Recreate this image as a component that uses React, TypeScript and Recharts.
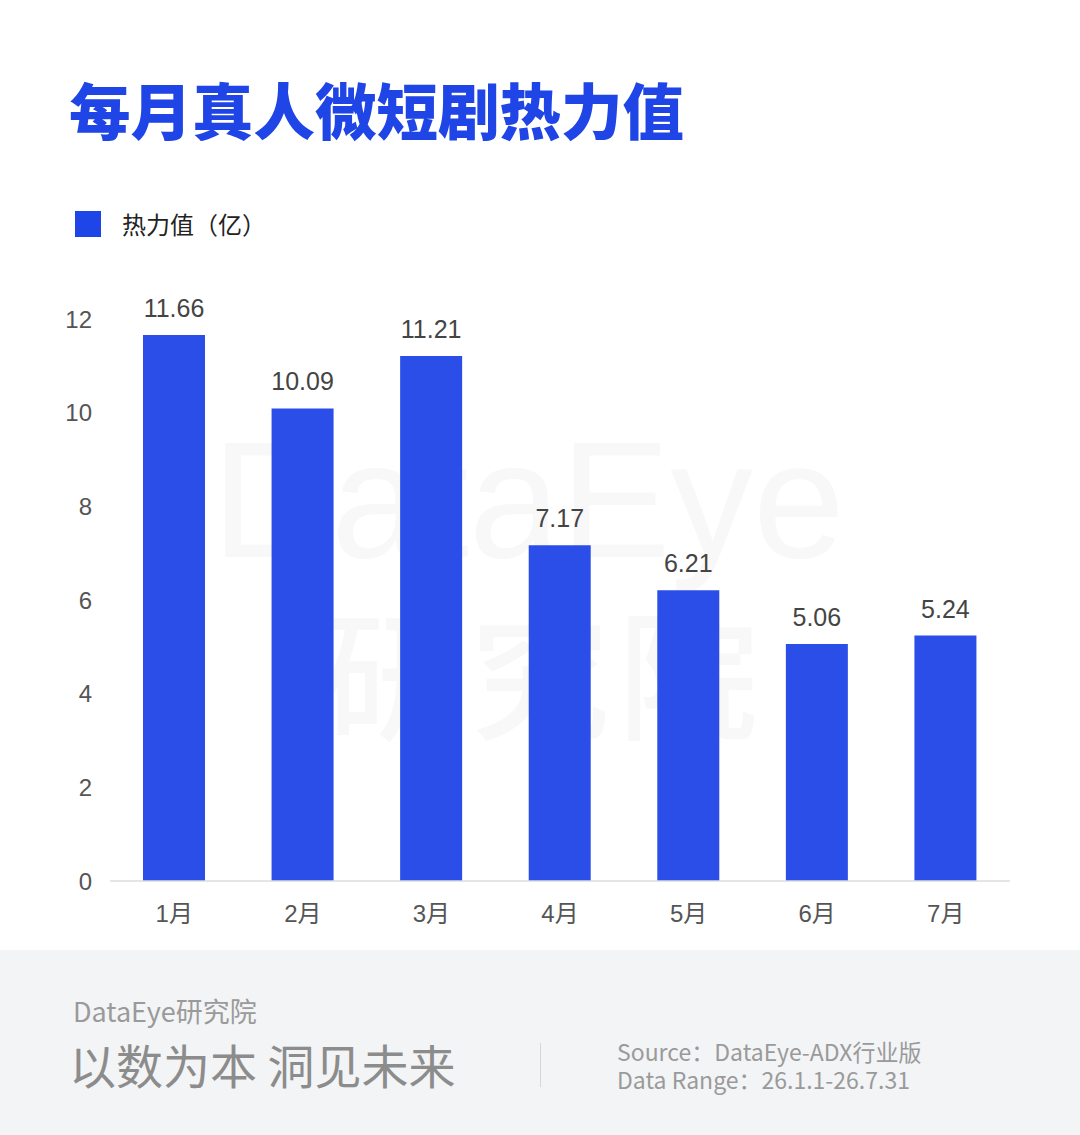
import { BarChart, Bar, XAxis, YAxis, LabelList } from 'recharts'

const months = ['1月', '2月', '3月', '4月', '5月', '6月', '7月']
const heatValues = [11.66, 10.09, 11.21, 7.17, 6.21, 5.06, 5.24]
const yTicks = [0, 2, 4, 6, 8, 10, 12]

const BLUE = '#2b4de8'
const CJK = '"Noto Sans CJK SC", "Noto Sans", sans-serif'
const NUM = '"Liberation Sans", Arial, "Noto Sans CJK SC", sans-serif'

const data = months.map((m, i) => ({ month: m, value: heatValues[i] }))

export default function App() {
  return (
    <div
      style={{
        position: 'absolute',
        left: 0,
        top: 0,
        width: 1080,
        height: 1135,
        background: '#ffffff',
        overflow: 'hidden',
        fontFamily: CJK,
      }}
    >
      {/* faint watermark */}
      <div
        style={{
          position: 'absolute',
          left: 212,
          top: 418,
          fontFamily: '"Liberation Sans", Arial, sans-serif',
          fontSize: 165,
          fontWeight: 400,
          color: '#f8f8f8',
          lineHeight: 1,
          whiteSpace: 'nowrap',
        }}
      >
        DataEye
      </div>
      <div
        style={{
          position: 'absolute',
          left: 322,
          top: 598,
          fontFamily: CJK,
          fontSize: 140,
          fontWeight: 500,
          color: '#f8f8f8',
          lineHeight: 1,
          whiteSpace: 'nowrap',
          letterSpacing: 8,
        }}
      >
        研究院
      </div>

      <div
        style={{
          position: 'absolute',
          left: 69,
          top: 72,
          fontSize: 61.5,
          fontWeight: 900,
          color: '#1f45e6',
          lineHeight: 1.2,
          whiteSpace: 'nowrap',
        }}
      >
        每月真人微短剧热力值
      </div>

      <div style={{ position: 'absolute', left: 75, top: 211, display: 'flex', alignItems: 'center' }}>
        <div style={{ width: 26, height: 26, background: '#1d45e8' }} />
        <span style={{ marginLeft: 21, fontSize: 24, color: '#222', lineHeight: '26px', whiteSpace: 'nowrap' }}>
          热力值（亿）
        </span>
      </div>

      <div style={{ position: 'absolute', left: 0, top: 0 }}>
        <BarChart width={1080} height={950} data={data} margin={{ top: 319, right: 70, bottom: 0, left: 0 }}>
          <XAxis
            dataKey="month"
            height={69}
            axisLine={{ stroke: '#dcdcdc', strokeWidth: 1.5 }}
            tickLine={false}
            tickSize={0}
            tickMargin={24}
            tick={{ fontSize: 24, fill: '#555', fontFamily: NUM }}
          />
          <YAxis
            width={110}
            domain={[0, 12]}
            ticks={yTicks}
            axisLine={false}
            tickLine={false}
            tickSize={0}
            tickMargin={18}
            tick={{ fontSize: 24, fill: '#555', fontFamily: NUM }}
          />
          <Bar dataKey="value" fill={BLUE} barSize={62} isAnimationActive={false}>
            <LabelList
              dataKey="value"
              position="top"
              offset={18}
              formatter={(v: number) => v.toFixed(2)}
              style={{ fontSize: 25, fill: '#444', fontFamily: NUM }}
            />
          </Bar>
        </BarChart>
      </div>

      {/* footer */}
      <div
        style={{
          position: 'absolute',
          left: 0,
          top: 950,
          width: 1080,
          height: 185,
          background: '#f3f4f6',
        }}
      >
        <div
          style={{
            position: 'absolute',
            left: 73,
            top: 45,
            fontSize: 27,
            color: '#9a9a9a',
            lineHeight: 1.2,
            whiteSpace: 'nowrap',
          }}
        >
          DataEye研究院
        </div>
        <div
          style={{
            position: 'absolute',
            left: 69,
            top: 86,
            fontSize: 47,
            color: '#8c8c8c',
            lineHeight: 1.2,
            whiteSpace: 'nowrap',
            letterSpacing: 0,
          }}
        >
          以数为本 洞见未来
        </div>
        <div style={{ position: 'absolute', left: 540, top: 93, width: 1, height: 44, background: '#d6d6d6' }} />
        <div
          style={{
            position: 'absolute',
            left: 617,
            top: 87,
            fontSize: 23,
            color: '#9a9a9a',
            lineHeight: '28px',
            whiteSpace: 'nowrap',
          }}
        >
          <div>Source：DataEye-ADX行业版</div>
          <div>Data Range：26.1.1-26.7.31</div>
        </div>
      </div>
    </div>
  )
}
